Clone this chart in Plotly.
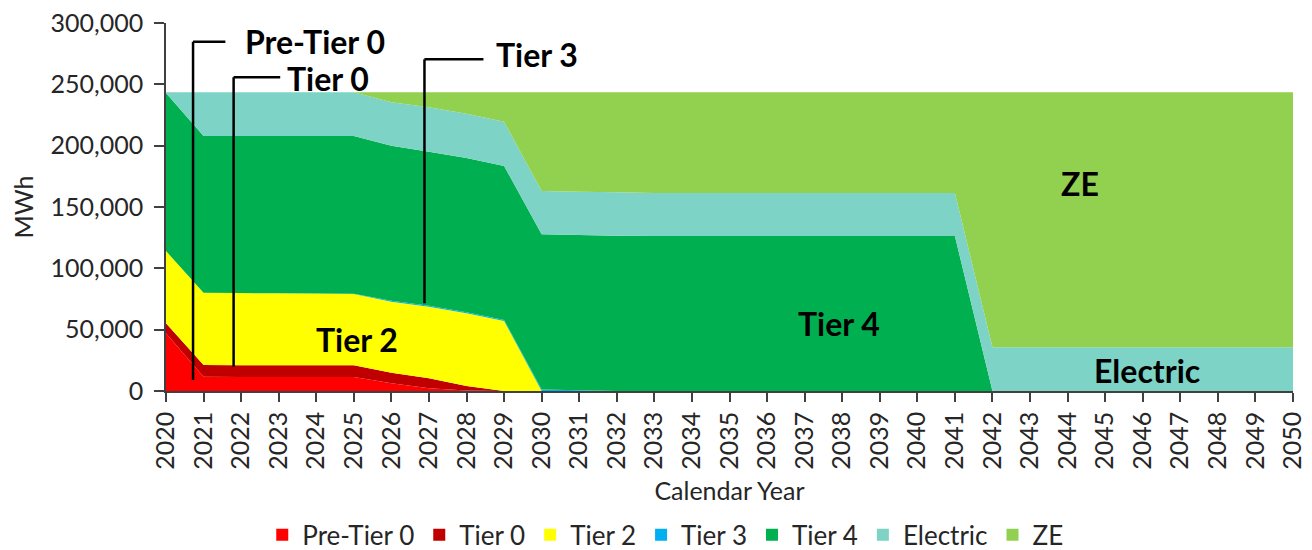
import plotly.graph_objects as go

years = list(range(2020, 2051))

pre_tier0 = [47000, 11700, 11500, 11500, 11500, 11500, 6300, 2200, 500, 0,
             0, 0, 0, 0, 0, 0, 0, 0, 0, 0, 0, 0, 0, 0, 0, 0, 0, 0, 0, 0, 0]
tier0 = [8200, 9500, 9500, 9500, 9500, 9500, 8600, 8100, 3500, 0,
         0, 0, 0, 0, 0, 0, 0, 0, 0, 0, 0, 0, 0, 0, 0, 0, 0, 0, 0, 0, 0]
tier2 = [58900, 58900, 58800, 58600, 58400, 58000, 57900, 58400, 59300, 57000,
         0, 0, 0, 0, 0, 0, 0, 0, 0, 0, 0, 0, 0, 0, 0, 0, 0, 0, 0, 0, 0]
tier3 = [0, 0, 0, 0, 0, 300, 800, 800, 800, 800,
         1200, 600, 0, 0, 0, 0, 0, 0, 0, 0, 0, 0, 0, 0, 0, 0, 0, 0, 0, 0, 0]
tier4 = [128900, 127800, 128100, 128300, 128500, 128600, 126400, 125600, 125900, 125600,
         126500, 126600, 126600, 126300, 126300, 126300, 126300, 126300, 126300, 126300,
         126300, 126300, 0, 0, 0, 0, 0, 0, 0, 0, 0]
electric = [500, 35600, 35600, 35600, 35600, 35600, 35300, 36200, 36000, 36100,
            35300, 35300, 35400, 35200, 35200, 35200, 35200, 35200, 35200, 35200,
            35200, 35200, 35600, 35600, 35600, 35600, 35600, 35600, 35600, 35600, 35600]
ze = [0, 0, 0, 0, 0, 0, 8200, 12200, 17500, 24000,
      80500, 81000, 81500, 82000, 82000, 82000, 82000, 82000, 82000, 82000,
      82000, 82000, 207900, 207900, 207900, 207900, 207900, 207900, 207900, 207900, 207900]

series_names = ["Pre-Tier 0", "Tier 0", "Tier 2", "Tier 3", "Tier 4", "Electric", "ZE"]
series_values = [pre_tier0, tier0, tier2, tier3, tier4, electric, ze]
series_colors = ["#FF0000", "#C00000", "#FFFF00", "#00B0F0", "#00B050", "#7DD3C5", "#92D050"]

FONT = "Lato"
TXT = "#262626"

fig = go.Figure()
for name, vals, col in zip(series_names, series_values, series_colors):
    fig.add_trace(go.Scatter(
        x=years, y=vals, name=name, stackgroup="one", mode="none",
        fillcolor=col, line=dict(width=0), showlegend=False, legendgroup=name,
    ))
# legend entries with square swatches
for name, col in zip(series_names, series_colors):
    fig.add_trace(go.Scatter(
        x=[None], y=[None], name=name, mode="markers", legendgroup=name,
        marker=dict(symbol="square", size=14, color=col), showlegend=True,
    ))

# in-chart labels (data coordinates)
labels = [
    ("Tier 2", 2025.09, 42100, "center"),
    ("Tier 4", 2037.92, 55400, "center"),
    ("ZE", 2044.33, 169300, "center"),
    ("Electric", 2046.11, 16550, "center"),
    ("Pre-Tier 0", 2022.05, 284700, "left"),
    ("Tier 0", 2023.17, 254600, "left"),
    ("Tier 3", 2028.72, 274700, "left"),
]
for txt, xx, yy, anc in labels:
    fig.add_annotation(x=xx, y=yy, xref="x", yref="y", text="<b>%s</b>" % txt,
                       showarrow=False, xanchor=anc, yanchor="middle",
                       font=dict(family=FONT, size=32, color="black"))

# leader lines
leaders = [
    (2020.72, 8970, 284700, 2021.58),
    (2021.80, 19800, 255700, 2023.04),
    (2026.88, 71500, 270400, 2028.45),
]
for lx, ybot, ytop, hx in leaders:
    fig.add_shape(type="line", xref="x", yref="y", x0=lx, x1=lx, y0=ybot, y1=ytop,
                  line=dict(color="black", width=2.5))
    fig.add_shape(type="line", xref="x", yref="y", x0=lx, x1=hx, y0=ytop, y1=ytop,
                  line=dict(color="black", width=2.5))

fig.update_layout(
    width=1304, height=542,
    margin=dict(l=158, r=19, t=15, b=159, autoexpand=False),
    paper_bgcolor="white", plot_bgcolor="white",
    font=dict(family=FONT, size=24, color=TXT),
    showlegend=True,
    legend=dict(orientation="h", x=0.443, xanchor="center", y=-0.391, yanchor="middle",
                font=dict(family=FONT, size=26, color=TXT),
                itemsizing="constant", traceorder="normal", itemwidth=30,
                tracegroupgap=0),
    xaxis=dict(
        range=[2020, 2050], tickmode="array", tickvals=years,
        ticktext=[str(y) for y in years], tickangle=-90,
        ticks="outside", ticklen=9, tickcolor="#404040", tickwidth=1.5,
        showline=True, linecolor="#404040", linewidth=1.5,
        showgrid=False, zeroline=False, ticklabeloverflow="allow",
        tickfont=dict(family=FONT, size=25, color=TXT),
        title=dict(text="Calendar Year", font=dict(family=FONT, size=25, color=TXT),
                   standoff=14),
    ),
    yaxis=dict(
        range=[0, 300000], tickmode="linear", tick0=0, dtick=50000,
        tickformat=",d", ticks="outside", ticklen=10, tickcolor="#404040", tickwidth=1.5,
        showline=True, linecolor="#404040", linewidth=1.5,
        showgrid=False, zeroline=False, ticklabelstandoff=6, ticklabeloverflow="allow",
        tickfont=dict(family=FONT, size=25, color=TXT),
        title=dict(text="MWh", font=dict(family=FONT, size=25, color=TXT), standoff=14),
    ),
)

fig.write_html("out.html")
